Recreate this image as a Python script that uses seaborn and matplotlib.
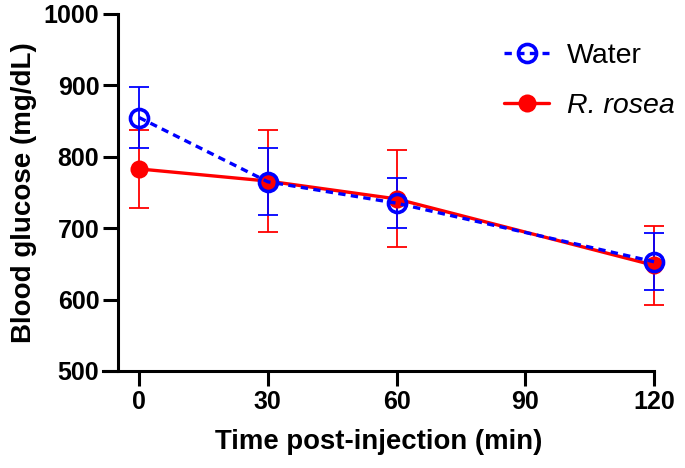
import matplotlib

matplotlib.use("Agg")
import matplotlib.pyplot as plt
import pandas as pd
import seaborn as sns

# Data (mean +/- SEM)
time_min = [0, 30, 60, 120]
water_mean = [855, 765, 735, 653]
water_err = [43, 47, 35, 40]
rosea_mean = [783, 766, 741, 648]
rosea_err = [55, 71, 68, 55]
group_names = ["Water", "R. rosea"]
x_ticks = [0, 30, 60, 90, 120]
y_ticks = [500, 600, 700, 800, 900, 1000]

sns.set_style("ticks")
plt.rcParams["font.family"] = ["Liberation Sans", "DejaVu Sans"]
plt.rcParams["text.color"] = "black"
plt.rcParams["axes.labelcolor"] = "black"
plt.rcParams["xtick.color"] = "black"
plt.rcParams["ytick.color"] = "black"
plt.rcParams["axes.edgecolor"] = "black"

df = pd.DataFrame(
    {
        "time": time_min * 2,
        "glucose": water_mean + rosea_mean,
        "err": water_err + rosea_err,
        "group": [group_names[0]] * 4 + [group_names[1]] * 4,
    }
)

fig = plt.figure(figsize=(6.85, 4.68), dpi=100)
ax = fig.add_axes([0.1504, 0.2073, 0.8044, 0.7628])

colors = {"Water": "#0000FF", "R. rosea": "#FF0000"}

# error bars first (underneath)
for name, z in [("R. rosea", 2), ("Water", 3)]:
    sub = df[df["group"] == name]
    ax.errorbar(
        sub["time"],
        sub["glucose"],
        yerr=sub["err"],
        fmt="none",
        ecolor=colors[name],
        elinewidth=1.3,
        capsize=7.5,
        capthick=1.3,
        zorder=z,
        clip_on=False,
    )

sns.lineplot(
    data=df[df["group"] == "R. rosea"],
    x="time",
    y="glucose",
    color=colors["R. rosea"],
    linewidth=2.4,
    marker="o",
    markersize=13,
    markeredgewidth=0,
    label="R. rosea",
    ax=ax,
    zorder=4,
    clip_on=False,
)
sns.lineplot(
    data=df[df["group"] == "Water"],
    x="time",
    y="glucose",
    color=colors["Water"],
    linewidth=2.4,
    linestyle=(0, (2.2, 1.6)),
    marker="o",
    markersize=13,
    markerfacecolor="none",
    markeredgecolor=colors["Water"],
    markeredgewidth=2.6,
    label="Water",
    ax=ax,
    zorder=5,
    clip_on=False,
)

ax.set_xlim(-8.4, 120)
ax.set_ylim(500, 1000)
ax.set_xticks(x_ticks)
ax.set_yticks(y_ticks)
ax.spines["right"].set_visible(False)
ax.spines["top"].set_visible(False)
ax.spines["left"].set_position(("data", -4.9))
for sp in ["left", "bottom"]:
    ax.spines[sp].set_linewidth(2.2)
ax.tick_params(axis="both", width=2.2, length=10.5, labelsize=18, pad=3)
for lbl in ax.get_xticklabels() + ax.get_yticklabels():
    lbl.set_fontweight("bold")

ax.set_xlabel("Time post-injection (min)", fontsize=19.8, fontweight="bold", labelpad=11)
ax.set_ylabel("Blood glucose (mg/dL)", fontsize=20, fontweight="bold", labelpad=5)

handles, labels = ax.get_legend_handles_labels()
order = [labels.index("Water"), labels.index("R. rosea")]
leg = ax.legend(
    [handles[i] for i in order],
    [labels[i] for i in order],
    loc="upper right",
    bbox_to_anchor=(1.084, 0.99),
    frameon=False,
    fontsize=20.5,
    handlelength=1.58,
    handletextpad=0.63,
    labelspacing=0.85,
)
leg.get_texts()[1].set_fontstyle("italic")

fig.savefig("out.png", dpi=100)
